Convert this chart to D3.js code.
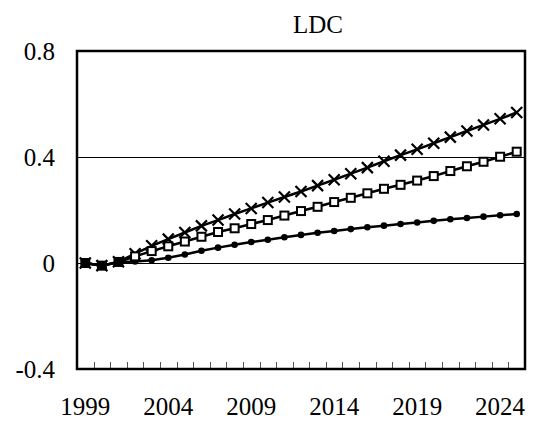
<!DOCTYPE html>
<html lang="en">
<head>
<meta charset="UTF-8">
<title>LDC</title>
<script src="https://d3js.org/d3.v7.min.js"></script>
<style>
  body { margin: 0; background: #fff; }
  text { font-family: "Liberation Serif", "Times New Roman", serif; fill: #000; }
</style>
</head>
<body>
<div id="chart"></div>
<script>
  const years = d3.range(1999, 2026);
  const crosses = [0, -0.01, 0.005, 0.035, 0.065, 0.09, 0.115, 0.14, 0.162, 0.185, 0.206, 0.228, 0.249,
    0.27, 0.292, 0.314, 0.337, 0.36, 0.384, 0.407, 0.429, 0.452, 0.475, 0.498, 0.521, 0.544, 0.568];
  const squares = [0, -0.01, 0.004, 0.025, 0.045, 0.063, 0.081, 0.099, 0.117, 0.131, 0.147, 0.162, 0.179,
    0.196, 0.212, 0.23, 0.246, 0.263, 0.28, 0.295, 0.311, 0.328, 0.347, 0.365, 0.382, 0.401, 0.42];
  const dots = [0, -0.01, 0.003, 0.006, 0.01, 0.02, 0.032, 0.046, 0.058, 0.069, 0.079, 0.088, 0.097,
    0.106, 0.114, 0.121, 0.128, 0.135, 0.141, 0.147, 0.153, 0.159, 0.165, 0.17, 0.175, 0.18, 0.185];
  const y_ticks = [-0.4, 0, 0.4, 0.8];
  const x_labels = [1999, 2004, 2009, 2014, 2019, 2024];
  const title = "LDC";

  const svg_width = 533, svg_height = 423;
  const plot_left = 77, plot_right = 525, plot_top = 51, plot_bottom = 369;

  const svg = d3.select("#chart").append("svg")
    .attr("width", svg_width)
    .attr("height", svg_height);

  const x = d3.scaleBand().domain(years).range([plot_left, plot_right]).padding(0);
  const y = d3.scaleLinear().domain([-0.4, 0.8]).range([plot_bottom, plot_top]);
  const cx = d => x(d) + x.bandwidth() / 2;

  // gridlines
  svg.selectAll(".grid")
    .data([0, 0.4])
    .enter().append("line")
    .attr("x1", plot_left).attr("x2", plot_right)
    .attr("y1", d => y(d) + 0.5).attr("y2", d => y(d) + 0.5)
    .attr("stroke", "#000").attr("stroke-width", 1);

  // inside ticks on the bottom edge
  svg.selectAll(".xtick")
    .data(years.slice(1))
    .enter().append("line")
    .attr("x1", d => Math.round(x(d)) + 0.5).attr("x2", d => Math.round(x(d)) + 0.5)
    .attr("y1", plot_bottom).attr("y2", plot_bottom - 7)
    .attr("stroke", "#555").attr("stroke-width", 1);

  // x labels
  const xAxis = svg.append("g")
    .attr("transform", "translate(0," + plot_bottom + ")")
    .call(d3.axisBottom(x).tickValues(x_labels).tickSize(0).tickPadding(28));
  xAxis.select(".domain").remove();
  xAxis.selectAll("text").attr("font-size", 25).attr("font-family", "Liberation Serif");

  // y labels (plain hyphen for the minus sign)
  const yAxis = svg.append("g")
    .attr("transform", "translate(" + plot_left + ",0)")
    .call(d3.axisLeft(y).tickValues(y_ticks).tickSize(0).tickPadding(22).tickFormat(d => String(d)));
  yAxis.select(".domain").remove();
  yAxis.selectAll("text").attr("font-size", 25).attr("font-family", "Liberation Serif");

  // frame
  svg.append("rect")
    .attr("x", plot_left).attr("y", plot_top)
    .attr("width", plot_right - plot_left).attr("height", plot_bottom - plot_top)
    .attr("fill", "none").attr("stroke", "#000").attr("stroke-width", 2.5);

  const line = d3.line().x((d, i) => cx(years[i])).y(d => y(d));

  [dots, squares, crosses].forEach(s => {
    svg.append("path")
      .datum(s)
      .attr("d", line)
      .attr("fill", "none")
      .attr("stroke", "#000")
      .attr("stroke-width", 2.5);
  });

  // dot markers
  svg.selectAll(".dot")
    .data(dots)
    .enter().append("circle")
    .attr("cx", (d, i) => cx(years[i]))
    .attr("cy", d => y(d))
    .attr("r", 3.3)
    .attr("fill", "#000");

  // cross markers
  svg.selectAll(".cross")
    .data(crosses)
    .enter().append("path")
    .attr("d", (d, i) => {
      const px = cx(years[i]), py = y(d), r = 5.5;
      return `M${px - r},${py - r}L${px + r},${py + r}M${px - r},${py + r}L${px + r},${py - r}`;
    })
    .attr("stroke", "#000").attr("stroke-width", 2.2).attr("fill", "none");

  // square markers
  svg.selectAll(".sq")
    .data(squares)
    .enter().append("rect")
    .attr("x", (d, i) => cx(years[i]) - 4)
    .attr("y", d => y(d) - 4)
    .attr("width", 8).attr("height", 8)
    .attr("fill", (d, i) => i < 3 ? "#000" : "#fff")
    .attr("stroke", "#000").attr("stroke-width", 2);

  svg.append("text")
    .attr("x", 318).attr("y", 33)
    .attr("text-anchor", "middle")
    .attr("font-size", 25)
    .text(title);
</script>
</body>
</html>
